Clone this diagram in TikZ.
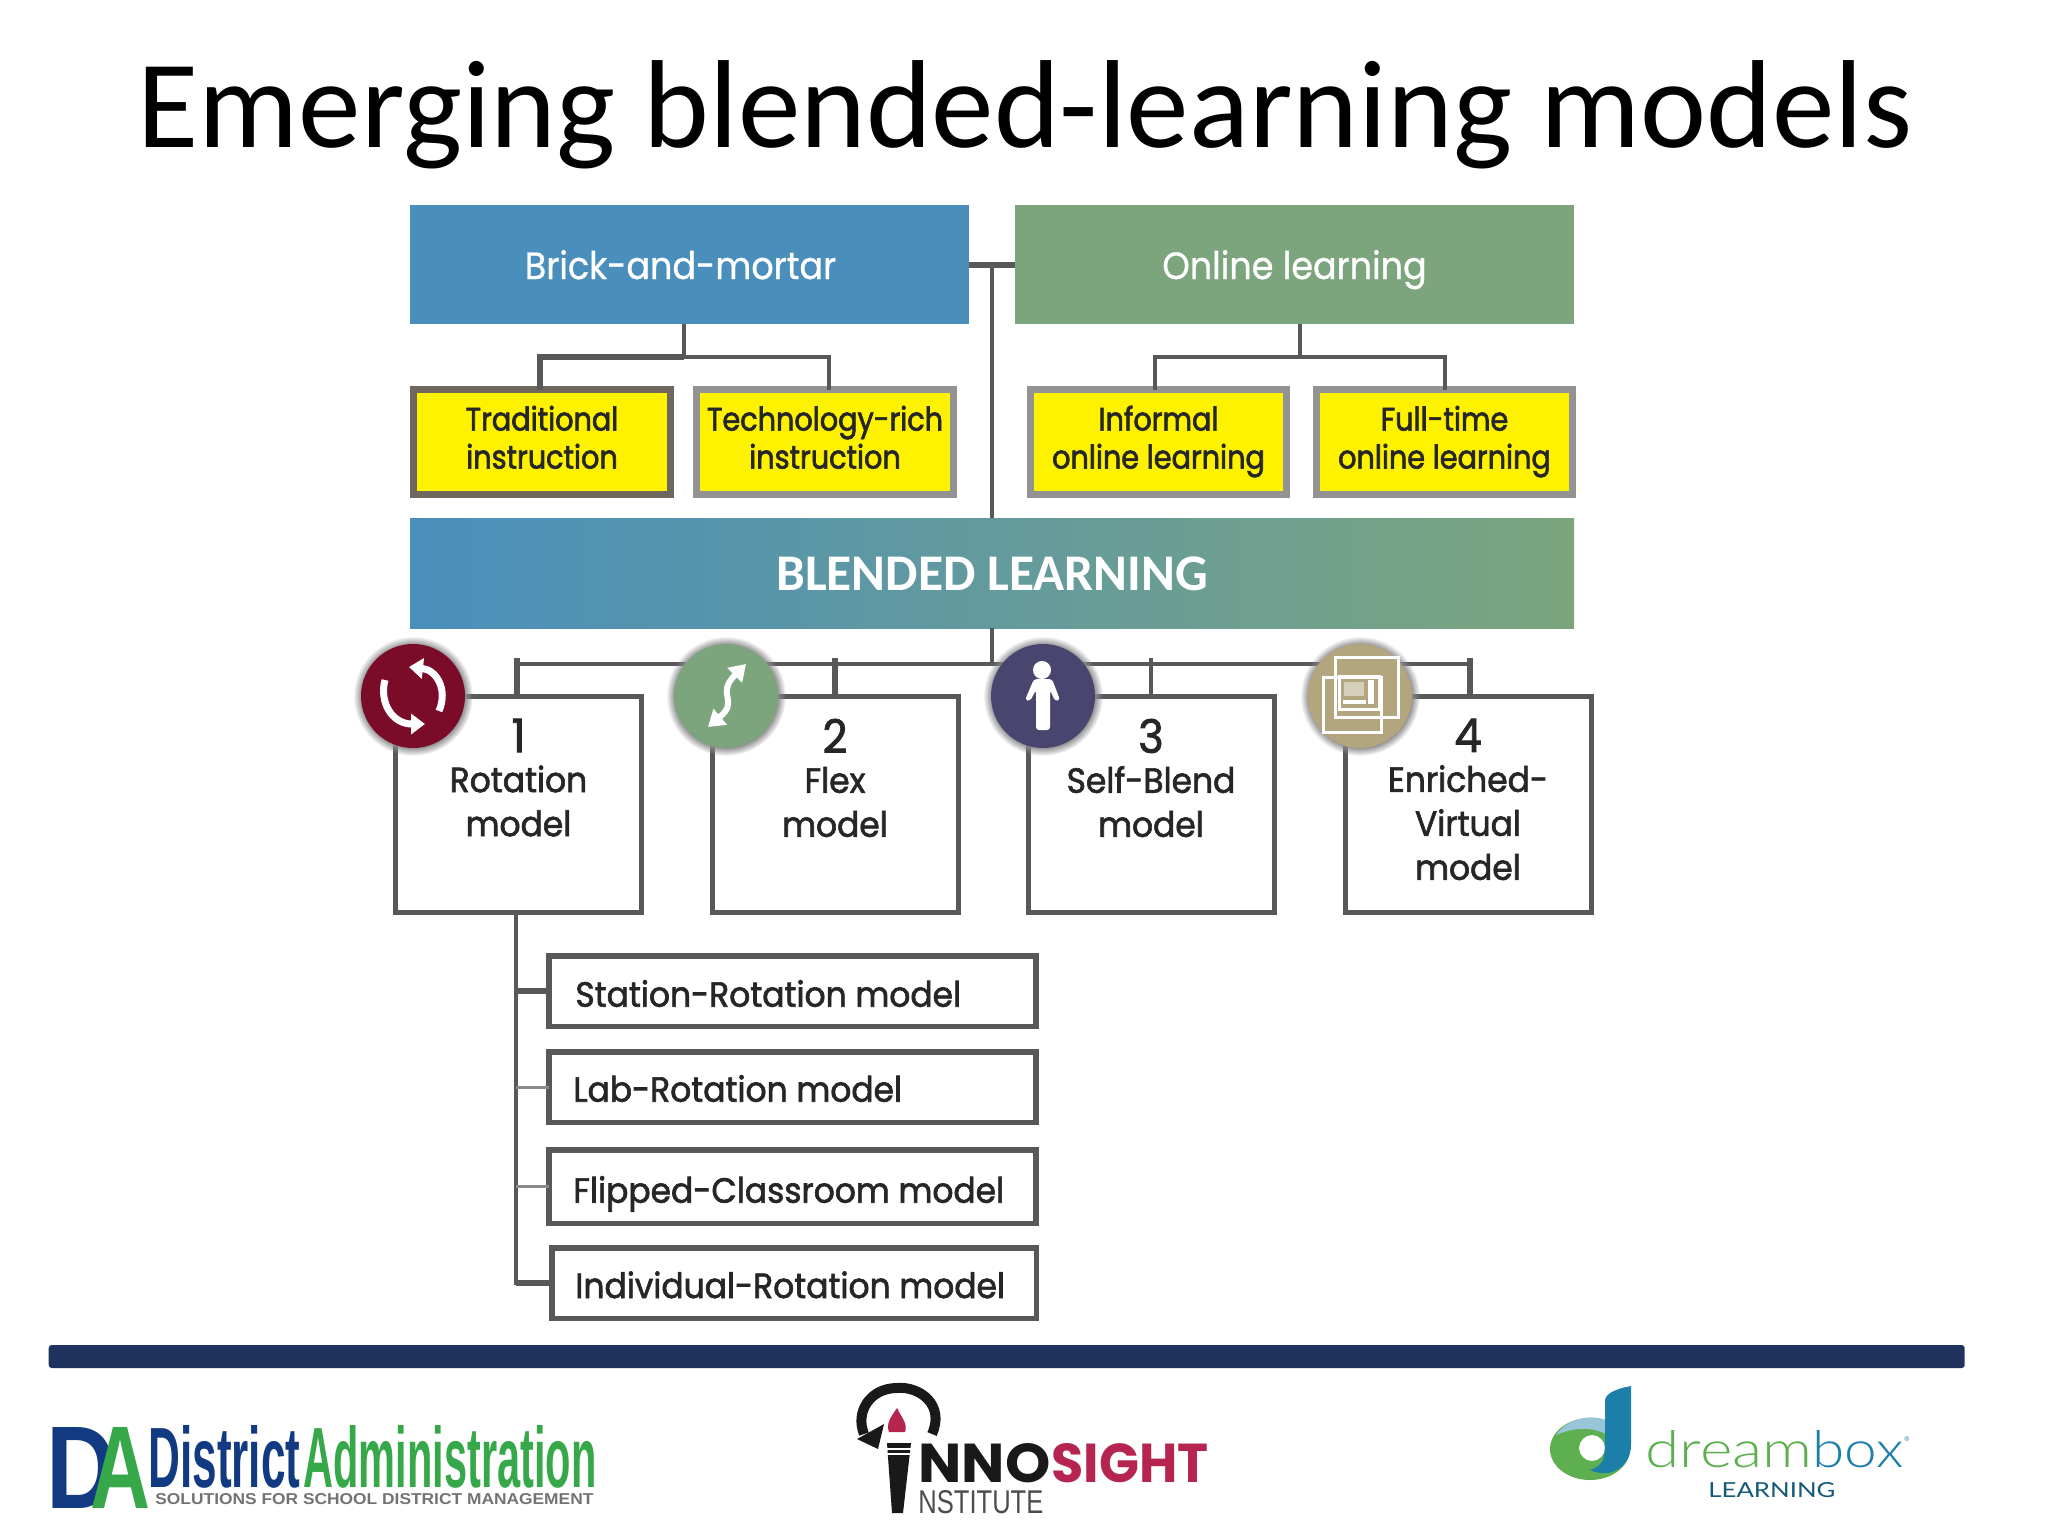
\documentclass[tikz,border=0pt]{standalone}
\usepackage{fontspec}
\usepackage{tikz}
\usetikzlibrary{positioning,arrows.meta,shadows,fadings}
\setmainfont{Carlito}
\newfontfamily\modelfont[FakeStretch=0.94,FakeBold=1.8]{Poppins}
\newfontfamily\typefont[FakeStretch=0.88,FakeBold=2]{Poppins}
\newfontfamily\headfont[FakeStretch=0.92,FakeBold=0.8]{Poppins}
\newfontfamily\logofont{Liberation Sans}
\newfontfamily\dreamfont{Lato Light}
\newfontfamily\learnfont{Lato}
\definecolor{brickblue}{HTML}{4A8FBC}
\definecolor{onlinegreen}{HTML}{7CA57E}
\definecolor{linkgray}{HTML}{58585A}
\definecolor{thickgray}{HTML}{6E675E}
\definecolor{palegray}{HTML}{939393}
\definecolor{wine}{HTML}{7A0C2A}
\definecolor{dusk}{HTML}{48466F}
\definecolor{sand}{HTML}{B3A67F}
\definecolor{navybar}{HTML}{20335F}
\definecolor{dablue}{HTML}{123A82}
\definecolor{dagreen}{HTML}{36A84A}
\definecolor{sightred}{HTML}{B5254F}
\definecolor{dreamgreen}{HTML}{5DAF50}
\definecolor{dreamblue}{HTML}{1C7FAA}

\begin{document}
\begin{tikzpicture}[x=0.5pt,y=-0.5pt,
  link/.style={draw=linkgray, line width=2pt},
  heavylink/.style={draw=linkgray, line width=3pt},
  headbox/.style={outer sep=0pt, inner sep=0pt, minimum width=279.5pt, minimum height=59.5pt, text height=14.5pt, text depth=0pt, text=white, font=\headfont\fontsize{19}{21}\selectfont},
  typebox/.style={draw=palegray, fill=yellow, line width=3.5pt, outer sep=0pt, inner sep=0pt, align=center, minimum width=128.25pt, minimum height=52.5pt, font=\typefont\fontsize{16.3}{19}\selectfont, text=black!85},
  modelbox/.style={draw=linkgray, fill=white, line width=2.5pt, outer sep=0pt, minimum width=123pt, minimum height=108pt},
  modeltext/.style={align=center, inner sep=0pt, anchor=north, font=\modelfont\fontsize{17.5}{22}\selectfont, text=black!85},
  subbox/.style={draw=linkgray, fill=white, line width=2.75pt, outer sep=0pt, minimum width=243.5pt, minimum height=35.25pt},
  subtext/.style={inner sep=0pt, anchor=base west, font=\modelfont\fontsize{17.5}{19}\selectfont, text=black!85},
  badge/.style={circle, fill=#1, outer sep=0pt, minimum size=52pt, circular glow={fill=black!45, shadow scale=1.15}},
  icon/.style={draw=white, line width=3.5pt},
  logotext/.style={inner sep=0pt, anchor=base west}
]
  \useasboundingbox (0,0) rectangle (2048,1536);
  \node[font=\fontsize{62.6}{70}\selectfont, inner sep=0pt, anchor=base] (title) at (1025,148) {Emerging blended-learning models};

  % top row
  \node[headbox, fill=brickblue] (brick) at (689.5,264.5) {Brick-and-mortar\kern9pt};
  \node[headbox, fill=onlinegreen] (online) at (1294.5,264.5) {Online learning};
  \node[typebox, draw=thickgray] (trad) at (542,442) {\strut Traditional\\\strut instruction};
  \node[typebox] (tech) at (825,442) {\strut Technology-rich\\\strut instruction};
  \node[typebox] (informal) at (1158.5,442) {\strut Informal\\\strut online learning};
  \node[typebox] (fulltime) at (1444.5,442) {\strut Full-time\\\strut online learning};
  \node[outer sep=0pt, inner sep=0pt, minimum width=582pt, minimum height=55pt, text height=17pt, text depth=0pt, left color=brickblue, right color=onlinegreen, middle color=brickblue!50!onlinegreen, text=white, font=\fontsize{25.7}{28}\selectfont\bfseries] (blended) at (992,573) {BLENDED LEARNING};

  \coordinate (brickfork) at (684,357);
  \coordinate (onlinefork) at (1300,357);
  \coordinate (modelbus) at (992,664);
  \coordinate (stubtop) at (992,658);
  \draw[heavylink] (brick.east) -- (online.west);
  \draw[link] (brick.east -| blended.north) -- (blended.north);
  \draw[link] (brickfork |- brick.south) -- (brickfork);
  \draw[heavylink] ([xshift=-1pt]trad.north) |- (brickfork);
  \draw[link] (brickfork) -| ([xshift=2pt]tech.north);
  \draw[link] (onlinefork |- online.south) -- (onlinefork);
  \draw[link] ([xshift=-2pt]informal.north) |- (onlinefork) -| (fulltime.north);

  % models
  \node[modelbox] (rotation) at (518.5,804.5) {};
  \node[modelbox] (flex) at (835,804.5) {};
  \node[modelbox] (selfblend) at (1151,804.5) {};
  \node[modelbox] (enriched) at (1468,804.5) {};
  \node[modeltext] (rotationtext) at (518.5,718.5) {{\fontsize{23}{22}\selectfont 1}\\[-2pt]Rotation\\model};
  \node[modeltext] (flextext) at (835,718.5) {{\fontsize{23}{22}\selectfont 2}\\[-2pt]Flex\\model};
  \node[modeltext] (selfblendtext) at (1151,718.5) {{\fontsize{23}{22}\selectfont 3}\\[-2pt]Self-Blend\\model};
  \node[modeltext] (enrichedtext) at (1468,718.5) {{\fontsize{23}{22}\selectfont 4}\\[-2pt]Enriched-\\Virtual\\model};

  \draw[link] (blended.south) -- (modelbus);
  \draw[link] ([xshift=-0.75pt]rotation.north |- modelbus) -- ([xshift=1pt]enriched.north |- modelbus);
  \draw[heavylink] ([xshift=-0.75pt]rotation.north) -- ([xshift=-0.75pt]rotation.north |- stubtop);
  \draw[heavylink] (flex.north) -- (flex.north |- stubtop);
  \draw[link] (selfblend.north) -- (selfblend.north |- stubtop);
  \draw[heavylink] ([xshift=1pt]enriched.north) -- ([xshift=1pt]enriched.north |- stubtop);

  % rotation variants
  \node[subbox] (station) at (792.7,991) {};
  \node[subbox] (lab) at (792.7,1087.4) {};
  \node[subbox, minimum height=36.75pt] (flipped) at (792.7,1186.5) {};
  \node[subbox, minimum width=242.25pt] (individual) at (794,1283.3) {};
  \node[subtext] (stationtext) at (575,1006.7) {Station-Rotation model};
  \node[subtext] (labtext) at (573,1101.7) {Lab-Rotation model};
  \node[subtext] (flippedtext) at (573,1202.7) {Flipped-Classroom model};
  \node[subtext] (individualtext) at (575,1298) {Individual-Rotation model};
  \coordinate (variantbus) at (516,915);
  \draw[link] (variantbus) |- (individual.west);
  \draw[heavylink] (variantbus |- station.west) -- (station.west);
  \draw[link, draw=linkgray!70, line width=1.5pt] (variantbus |- lab.west) -- (lab.west);
  \draw[link, draw=linkgray!70, line width=1.5pt] (variantbus |- flipped.west) -- (flipped.west);
  \draw[heavylink] (variantbus |- individual.west) -- (individual.west);

  % badges
  \node[badge=wine] (turn) at (413,696) {};
  \node[badge=onlinegreen] (swing) at (726,696) {};
  \node[badge=dusk] (person) at (1043,696) {};
  \node[badge=sand] (screen) at (1360,696) {};

  \draw[icon, -{Triangle[width=10pt,length=7pt]}] (439,711) .. controls (448,690) and (437,670) .. (409,667);
  \draw[icon, -{Triangle[width=10pt,length=7pt]}] (385,680) .. controls (379,702) and (392,724) .. (425,724);
  \draw[icon, line width=3pt, {Triangle[width=10pt,length=8pt]}-{Triangle[width=10pt,length=8pt]}] (708,727) .. controls (740,700) and (715,695) .. (746,664);
  \fill[white] (1042,670) circle (4.5pt);
  \fill[white, rounded corners=1.5pt] (1034,679) -- (1052,679) -- (1060,700) -- (1055,701) -- (1050,690) -- (1050,730) -- (1036,730) -- (1036,690) -- (1030,701) -- (1025,700) -- cycle;
  \draw[white, line width=1.5pt] (1323,677) rectangle (1381,732);
  \draw[white, line width=1.5pt] (1335,657) rectangle (1398,717);
  \draw[white, line width=1.5pt] (1339,676) rectangle (1379,709);
  \fill[sand!55!white] (1344,682) rectangle (1364,696);
  \fill[white] (1368,680) rectangle (1374,704);
  \fill[white] (1343,700) rectangle (1366,704);

  % bar
  \node[fill=navybar, rounded corners=1.5pt, inner sep=0pt, minimum width=958pt, minimum height=11.5pt] (bar) at (1006.7,1356.5) {};

  % district administration
  \node[logotext, text=dablue] (dad) at (46,1508) {\resizebox{35pt}{40.5pt}{\logofont\bfseries D}};
  \node[logotext, text=dagreen] (daa) at (90,1508) {\resizebox{30pt}{40.5pt}{\logofont\bfseries A}};
  \node[logotext, text=dablue] (district) at (148,1487) {\resizebox{76pt}{31pt}{\logofont\bfseries District}};
  \node[logotext, text=dagreen] (admin) at (303,1487) {\resizebox{146.5pt}{31pt}{\logofont\bfseries Administration}};
  \node[logotext, text=black!55] (tagline) at (155,1504) {\resizebox{219pt}{5.5pt}{\logofont\bfseries SOLUTIONS FOR SCHOOL DISTRICT MANAGEMENT}};

  % innosight
  \draw[black!90, line width=5pt] (932,1434) .. controls (945,1405) and (920,1386) .. (897,1388) .. controls (870,1388) and (855,1412) .. (864,1434);
  \fill[black!90] (857,1439) -- (878,1449) -- (884,1424) -- cycle;
  \fill[sightred] (897,1408) .. controls (890,1418) and (886,1424) .. (889,1432) -- (905,1432) .. controls (908,1424) and (902,1418) .. (897,1408) -- cycle;
  \fill[black!90] (887,1443) -- (911,1443) -- (903,1513) -- (892,1513) -- cycle;
  \draw[white, line width=0.8pt] (886,1449) -- (912,1449) (886,1454) -- (912,1454);
  \node[logotext, text=black!90] (inno) at (918,1482) {\resizebox{66pt}{19.5pt}{\fontspec{Poppins}\bfseries NNO}};
  \node[logotext, text=sightred] (sight) at (1051,1482) {\resizebox{78.5pt}{19.5pt}{\fontspec{Poppins}\bfseries SIGHT}};
  \node[logotext, text=black!70] (institute) at (918,1513) {\resizebox{62.5pt}{11.5pt}{\logofont NSTITUTE}};

  % dreambox
  \fill[dreamgreen, even odd rule] (1590,1449) ellipse (20pt and 15.5pt) (1592,1448) circle (6.5pt);
  \fill[dreamblue!45!white] (1556,1435) .. controls (1568,1418) and (1590,1414) .. (1606,1420) -- (1606,1434) .. controls (1590,1426) and (1572,1428) .. (1556,1435) -- cycle;
  \fill[dreamblue] (1605,1400) .. controls (1606,1392) and (1620,1388) .. (1631,1386) -- (1631,1445) .. controls (1631,1465) and (1612,1480) .. (1590,1470) .. controls (1604,1466) and (1605,1456) .. (1605,1445) -- cycle;
  \node[logotext, text=dreamgreen] (dream) at (1645,1467) {\resizebox{83.5pt}{18.5pt}{\dreamfont dream}};
  \node[logotext, text=dreamblue] (box) at (1812,1467) {\resizebox{45.5pt}{18.5pt}{\dreamfont box}};
  \node[logotext, text=dreamblue, font=\logofont\fontsize{3.5}{4}\selectfont] (mark) at (1904,1441) {®};
  \node[logotext, text=dreamblue!70!black] (learning) at (1708,1497) {\resizebox{63.5pt}{7.5pt}{\learnfont LEARNING}};
\end{tikzpicture}
\end{document}
